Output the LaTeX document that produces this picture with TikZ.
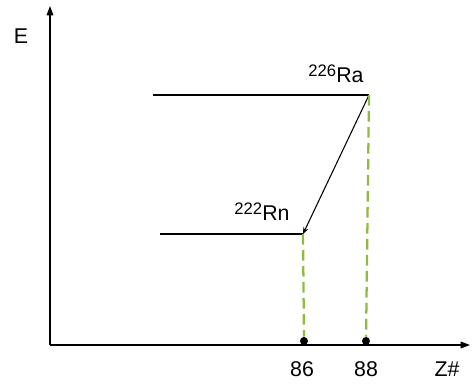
\documentclass[tikz,border=0pt]{standalone}
\usepackage{fontspec}
\setmainfont{Liberation Sans}
\usetikzlibrary{positioning,arrows.meta}
\definecolor{lvgreen}{RGB}{141,188,62}
\newcommand{\iso}[2]{\raisebox{0.55ex}{\fontsize{12.5}{14}\selectfont #1}#2}

\begin{document}
\begin{tikzpicture}[x=0.75pt, y=-0.75pt, >=Triangle,
      font=\fontsize{16}{19}\selectfont,
      ax/.style={thick, -{Triangle[length=7pt, width=5pt]}},
      lvl/.style={thick},
      drop/.style={line width=1.7pt, lvgreen, dash pattern=on 8pt off 4pt},
      dot/.style={circle, fill, inner sep=0pt, minimum size=6pt},
      lab/.style={inner sep=1pt}]
      \useasboundingbox (0,0) rectangle (474,383);
      % axes
      \coordinate (o) at (50,345);
      \coordinate (ytop) at (50,6);
      \coordinate (xend) at (470,345);
      \draw[ax] (o) -- (ytop);
      \draw[ax] (o) -- (xend);
      \node[lab] (e) at (21,36) {E};
      \node[lab] (z) at (447,369) {Z\#};
      % levels
      \coordinate (ra) at (369,95);
      \coordinate (rn) at (303,234);
      \coordinate (raL) at (153,95);
      \coordinate (rnL) at (160,234);
      \draw[lvl] (raL) -- (ra);
      \draw[lvl] (rnL) -- (rn);
      \draw[thick, -{Stealth[length=5pt, width=4pt]}] (ra) -- (rn);
      \node[lab] (ralab) at (336,74) {\iso{226}{Ra}};
      \node[lab] (rnlab) at (262,212) {\iso{222}{Rn}};
      % drop lines to the axis
      \node[dot] (d86) at (304,341) {};
      \node[dot] (d88) at (366,341) {};
      \draw[drop] (rn) -- (d86);
      \draw[drop] (ra) -- (d88);
      \node[lab] (n86) at (302,369) {86};
      \node[lab] (n88) at (366,369) {88};
    \end{tikzpicture}
\end{document}
